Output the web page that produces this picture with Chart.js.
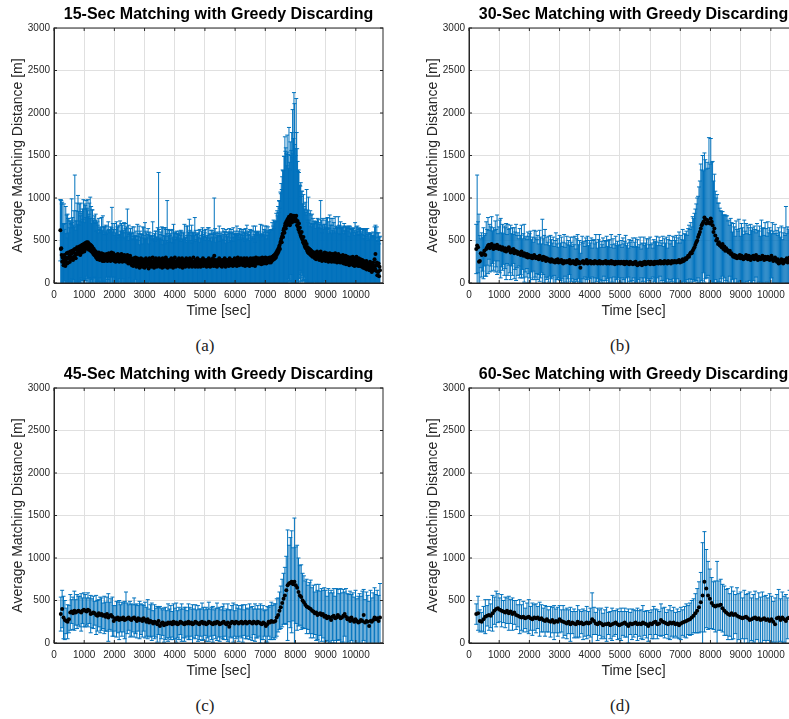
<!DOCTYPE html>
<html>
<head>
<meta charset="utf-8">
<script src="https://cdn.jsdelivr.net/npm/chart.js@4.4.0/dist/chart.umd.min.js"></script>
<style>
html, body { margin: 0; padding: 0; background: #fff; width: 789px; height: 719px; overflow: hidden; }
.panel { position: absolute; width: 400px; height: 330px; }
.cap { position: absolute; width: 60px; text-align: center; font-family: "Liberation Serif", "DejaVu Serif", serif; font-size: 17px; color: #222; line-height: 20px; }
</style>
</head>
<body>
<div class="panel" style="left:0px;top:0px"><canvas id="c15" width="400" height="330"></canvas></div>
<div class="panel" style="left:415px;top:0px"><canvas id="c30" width="400" height="330"></canvas></div>
<div class="panel" style="left:0px;top:360px"><canvas id="c45" width="400" height="330"></canvas></div>
<div class="panel" style="left:415px;top:360px"><canvas id="c60" width="400" height="330"></canvas></div>
<div class="cap" style="left:175px;top:336px">(a)</div>
<div class="cap" style="left:590px;top:336px">(b)</div>
<div class="cap" style="left:175px;top:696px">(c)</div>
<div class="cap" style="left:590px;top:696px">(d)</div>
<script>
// time grid: first sample and matching interval (sec)
var start15 = 210, step15 = 15;
var start30 = 240, step30 = 30;
var start45 = 225, step45 = 45;
var start60 = 240, step60 = 60;

var xTicks = [0, 1000, 2000, 3000, 4000, 5000, 6000, 7000, 8000, 9000, 10000];
var yTicks = [0, 500, 1000, 1500, 2000, 2500, 3000];

// 15-sec: average matching distance and its std
var mean15 = [
620,400,410,330,250,300,260,210,240,330,280,200,300,250,350,230,290,360,240,300,
320,250,370,280,340,290,380,300,270,360,390,310,400,330,290,390,350,420,340,380,
400,350,430,370,330,410,440,380,360,450,390,420,460,370,430,470,400,440,480,410,
450,480,420,390,460,410,450,380,440,370,430,360,410,340,400,330,380,320,370,300,
360,320,280,350,300,360,310,270,340,300,280,350,320,260,310,340,290,260,330,300,
320,270,340,290,260,330,300,350,270,290,340,260,310,360,290,270,330,350,290,260,
320,280,250,330,300,260,310,340,270,300,250,310,330,280,260,340,300,250,320,280,
290,330,260,280,320,250,300,270,330,280,230,300,270,250,320,230,290,260,210,280,
250,200,290,240,270,220,300,240,190,260,290,220,210,280,240,180,260,230,290,210,
250,190,280,230,210,270,180,250,230,290,200,250,210,270,230,170,250,290,210,240,
270,190,250,230,300,210,250,180,270,230,210,290,250,190,230,270,210,250,290,230,
190,250,270,210,240,180,290,250,210,270,230,190,250,300,210,230,270,180,250,230,
210,270,250,190,230,290,210,250,230,180,270,210,250,300,230,190,250,210,270,230,
250,200,290,230,190,250,270,210,230,290,180,250,230,200,270,250,190,230,290,210,
230,270,210,250,190,230,290,250,210,230,270,190,250,230,300,210,250,230,190,270,
230,200,250,290,190,230,270,210,250,230,190,270,250,210,230,290,200,250,230,270,
210,250,230,190,270,230,250,200,290,230,250,190,230,270,210,250,230,290,200,250,
320,230,270,200,250,230,190,270,250,230,210,290,250,230,270,200,250,190,230,270,
250,210,230,290,250,190,230,270,210,250,230,270,200,250,290,230,210,250,270,230,
250,200,270,230,250,290,210,250,230,270,200,250,300,230,250,210,270,250,220,290,
230,250,270,210,250,230,290,250,200,270,250,230,290,210,250,270,230,250,200,270,
290,230,250,270,210,250,290,230,270,250,200,270,300,230,250,270,230,290,250,270,
230,250,290,270,220,250,300,250,270,230,290,250,270,300,250,230,290,270,250,290,
270,240,300,260,280,240,300,260,310,270,290,320,280,330,290,340,300,360,330,380,
350,400,370,420,440,400,470,490,520,480,550,580,540,620,640,590,670,700,640,720,
680,740,690,760,700,780,720,680,760,800,710,770,730,790,720,750,790,760,730,780,
750,790,720,680,730,660,630,700,600,650,580,560,540,600,520,510,480,540,460,470,
430,490,410,420,460,380,420,360,410,350,400,340,390,330,380,320,370,310,360,330,
320,360,290,350,310,280,340,370,300,290,350,320,270,340,300,370,290,330,260,310,
340,290,270,330,360,290,260,310,350,280,330,290,250,320,280,350,260,300,340,250,
300,280,340,260,320,250,300,350,260,280,320,240,310,270,340,250,290,310,240,320,
270,310,240,290,330,250,230,310,270,240,320,220,290,260,310,230,280,250,210,300,
260,230,300,220,280,250,310,210,270,240,200,290,250,220,310,210,270,240,200,290,
230,260,200,280,210,250,190,270,220,180,260,200,240,170,230,190,260,160,220,190,
230,170,210,150,250,190,160,230,130,210,180,240,150,200,280,170,340,210,140,240,
90,210,130,230,80,190,150
];
var err15 = [
360,580,560,600,700,400,320,480,690,300,420,380,600,330,450,300,520,400,350,460,
330,480,360,420,350,700,330,470,380,320,460,350,870,400,330,460,380,520,350,650,
440,330,500,360,460,530,380,340,480,420,360,560,410,340,500,440,370,530,400,460,
400,500,360,420,480,350,560,380,460,330,430,500,350,400,330,460,320,390,440,310,
380,300,440,330,290,400,320,380,280,360,310,420,300,350,480,320,280,400,330,290,
360,300,270,380,330,290,420,280,350,310,260,400,320,290,600,330,370,280,340,300,
380,280,340,300,420,270,350,320,290,380,310,260,400,330,280,360,310,430,270,340,
300,380,270,420,320,290,360,280,540,310,270,380,300,350,260,410,290,330,300,380,
270,350,300,420,280,330,260,370,320,290,400,280,340,300,430,270,350,310,290,360,
320,270,380,300,440,290,340,460,280,320,390,270,330,300,410,290,350,270,380,310,
290,360,270,330,420,300,280,370,310,260,400,320,290,350,280,380,310,1050,340,290,
380,280,330,300,420,270,360,310,290,380,320,270,400,330,290,350,700,300,380,320,
270,350,310,390,290,330,270,380,310,290,420,300,340,280,370,320,290,400,310,350,
280,370,320,290,400,310,350,280,380,300,330,270,360,310,420,290,340,300,380,270,
330,400,290,350,310,520,300,370,290,330,410,280,350,320,290,380,310,540,300,350,
280,370,320,290,400,310,350,270,380,300,330,290,360,310,420,280,350,300,390,320,
290,380,310,350,270,330,400,300,360,290,330,380,300,350,280,370,310,290,400,320,
680,300,370,280,340,310,390,290,350,320,280,380,310,350,290,400,300,340,280,370,
320,290,380,310,350,280,400,300,340,290,370,320,280,390,310,350,290,380,320,300,
350,290,380,310,330,280,400,320,350,290,470,310,280,380,330,300,370,290,350,320,
290,380,320,350,280,400,310,340,290,370,330,280,390,310,350,290,380,320,300,360,
310,390,280,350,320,300,380,290,340,320,280,400,300,370,330,290,380,310,350,300,
330,290,400,310,350,300,380,320,290,370,340,300,400,320,350,290,380,330,310,370,
330,380,300,360,340,390,320,370,400,350,380,420,360,400,430,380,420,460,400,470,
440,500,460,550,520,480,600,560,650,620,700,750,780,700,850,900,1050,850,950,800,
700,1000,850,750,650,1050,700,650,900,700,850,1000,750,1250,800,950,1450,1350,900,800,
750,1380,1050,900,700,650,700,600,550,500,560,620,480,480,560,420,450,500,440,400,
430,460,420,380,640,360,440,350,600,390,420,330,460,370,420,340,440,380,400,360,
400,340,440,370,330,430,380,350,460,360,400,330,420,370,340,600,350,410,330,370,
420,340,390,360,330,450,380,340,410,350,440,360,330,400,360,450,340,380,420,330,
380,340,420,330,390,360,340,430,330,380,350,410,340,380,440,330,390,360,330,400,
370,340,410,360,330,420,350,390,340,380,350,440,360,400,340,380,360,420,340,370,
400,360,330,420,350,390,340,430,330,380,360,420,340,380,350,360,400,370,360,340,
420,380,370,360,400,340,380,360,420,340,380,360,380,350,400,360,380,340,420,380,
360,400,380,370,330,390,380,360,420,350,380,360,400,340,380,360,340,380,360,420,
400,380,410,360,380,350,400
];

// 30-sec
var mean30 = [
400,440,420,250,260,350,330,340,350,380,330,400,420,440,450,410,430,460,420,400,
440,430,410,450,420,400,430,410,390,420,400,380,410,370,400,390,420,380,360,390,
370,400,350,380,360,370,340,360,350,330,370,340,320,350,330,310,340,300,330,320,
300,320,290,310,330,300,290,310,300,280,320,300,290,270,310,280,300,260,290,270,
280,260,250,280,270,250,260,240,270,250,280,240,260,250,270,240,230,260,250,240,
260,250,240,270,230,250,240,260,230,250,220,270,240,250,230,180,240,250,260,230,
250,240,270,230,250,240,260,230,240,250,230,260,240,250,230,240,260,230,250,240,
230,250,240,260,230,240,250,230,240,260,230,250,240,220,250,240,230,250,240,230,
250,240,230,250,220,240,250,230,240,220,250,240,230,220,240,230,250,220,210,230,
220,240,230,210,240,230,250,220,240,230,250,240,220,250,230,240,220,250,230,240,
250,230,240,260,230,250,240,230,260,240,250,230,260,240,250,230,260,250,240,260,
250,240,260,250,270,240,260,250,280,260,270,290,280,300,320,310,340,360,350,380,
400,420,450,480,500,540,570,600,640,680,700,720,770,750,700,740,720,710,700,760,
720,680,600,640,560,500,520,460,480,440,450,420,460,400,430,380,410,390,370,360,
380,340,350,320,310,330,300,320,290,310,300,330,290,320,300,280,310,290,330,300,
280,320,300,270,310,290,320,280,300,330,290,270,310,290,280,300,320,290,270,310,
300,280,310,290,270,300,320,280,260,290,300,270,250,280,230,260,240,280,250,230,
270,250,260,290,240,280,300,250,270,290,260,280,300,270,290,280
];
var err30 = [
290,830,300,560,300,170,260,200,300,180,250,320,210,330,170,280,230,320,190,250,
180,300,220,350,160,260,310,350,200,270,180,290,240,330,170,300,210,260,320,190,
280,170,300,220,330,190,250,160,290,230,310,180,260,340,200,240,170,300,220,260,
310,190,250,170,290,230,320,200,260,180,300,240,170,480,210,280,330,190,250,210,
270,180,310,230,200,290,170,260,320,210,240,180,300,220,270,190,250,310,170,230,
290,200,260,170,310,230,190,280,220,300,180,250,330,200,270,170,240,300,210,260,
180,290,230,320,190,260,210,300,170,250,280,200,330,230,180,270,310,190,240,210,
300,170,260,230,320,190,250,280,180,310,220,270,170,240,300,200,260,190,330,220,
250,180,300,210,270,320,190,240,170,290,230,260,200,310,180,250,280,210,300,190,
230,300,170,260,220,310,190,250,280,180,270,210,320,200,240,170,290,230,260,310,
190,250,300,180,270,220,310,200,260,230,290,180,250,320,210,270,240,300,190,280,
250,320,210,280,330,230,300,260,350,240,310,280,330,260,320,370,290,350,310,400,
360,400,420,450,500,480,560,600,760,650,800,600,760,700,640,680,630,1000,700,940,
700,750,600,640,520,500,520,480,460,440,400,420,380,400,370,420,380,400,360,380,
300,420,360,280,390,330,250,410,340,300,450,310,260,380,350,290,430,320,370,280,
400,330,270,420,310,360,290,390,330,260,410,350,300,380,270,440,320,360,290,400,
340,270,410,300,380,320,260,430,350,290,390,310,370,280,420,340,300,390,260,360,
380,310,640,290,420,350,300,400,330,370,280,410,340,300,390,360
];

// 45-sec
var mean45 = [
340,400,300,270,260,250,280,360,370,350,380,360,370,380,370,360,380,390,380,370,
390,380,340,350,360,350,330,320,350,330,340,320,330,310,340,300,320,330,310,260,
290,280,300,270,290,280,300,270,280,290,300,280,270,290,300,280,260,290,270,280,
260,290,270,250,280,240,260,250,230,250,240,220,260,200,230,240,210,230,220,240,
230,240,220,250,230,240,220,230,250,240,230,220,240,230,250,230,240,220,230,250,
240,230,220,240,250,230,240,220,230,250,240,230,220,240,230,250,240,220,230,240,
250,230,220,240,190,230,250,240,230,250,240,230,240,250,230,240,250,230,240,250,
240,230,250,240,230,250,240,230,220,240,230,200,220,250,240,260,250,250,260,300,
330,380,420,470,520,560,620,680,700,710,720,690,720,680,650,600,560,540,500,480,
450,430,420,410,400,380,370,350,360,330,340,350,330,340,310,320,290,310,300,270,
310,320,290,300,330,310,290,300,320,340,310,280,290,260,300,270,250,280,260,240,
250,270,260,330,240,260,250,200,260,250,270,300,280,290,260,300
];
var err45 = [
200,220,250,230,150,200,160,210,140,190,230,150,200,170,180,220,150,200,190,160,
200,150,220,170,190,140,230,180,160,210,190,150,220,170,200,280,160,190,230,180,
150,210,180,230,160,200,170,220,320,180,150,210,190,160,230,170,200,150,220,180,
190,150,210,170,230,160,190,220,150,200,170,210,160,230,180,150,200,190,160,220,
170,200,150,210,180,230,160,190,150,220,170,200,180,150,210,190,160,230,170,200,
150,210,180,160,220,190,150,200,170,230,160,190,210,150,180,220,170,200,160,190,
210,150,180,220,200,160,190,230,150,200,170,210,160,190,220,150,200,180,160,210,
180,200,150,220,170,190,160,230,180,200,150,190,210,170,200,220,190,210,200,220,
200,220,250,280,300,330,400,650,450,530,600,430,750,450,500,400,350,380,320,310,
280,320,260,300,340,270,310,250,330,290,350,260,310,280,340,300,260,330,290,350,
280,320,260,340,300,270,350,290,310,260,330,300,280,350,270,320,290,340,260,310,
330,280,350,300,270,340,310,290,360,280,320,350,290,330,300,400
];

// 60-sec
var mean60 = [
340,350,260,250,280,310,320,330,320,350,380,400,410,390,380,370,360,380,350,370,
340,360,330,320,310,300,310,290,300,310,290,280,300,290,300,280,290,270,260,280,
260,250,270,240,260,250,280,260,250,240,230,250,220,240,230,220,250,230,240,220,
230,240,230,240,280,260,230,220,240,230,210,220,220,230,210,220,230,240,220,210,
220,230,240,220,200,230,220,230,240,220,230,220,240,230,220,200,230,220,240,250,
220,230,270,250,240,230,220,240,230,240,220,230,210,230,240,250,260,270,280,300,
320,350,380,420,480,560,720,640,560,520,470,440,430,440,440,450,410,380,360,340,
330,350,330,340,320,310,300,290,300,310,290,270,280,290,300,280,290,270,280,290,
270,280,260,280,250,220,290,300,270,300,280,260,290,300,280,270,290,300
];
var err60 = [
120,200,130,110,150,200,120,180,140,210,160,210,170,140,190,130,180,150,200,140,
190,140,170,130,200,150,180,120,170,200,140,190,150,170,130,200,160,140,180,150,
130,180,150,200,140,170,160,130,190,150,180,140,200,130,170,150,190,160,130,180,
150,190,140,170,310,160,130,190,150,180,140,170,200,130,160,190,150,140,180,160,
190,140,170,150,200,130,180,160,140,190,150,170,200,140,160,180,130,170,190,150,
170,140,190,160,180,130,170,200,150,180,140,170,160,190,150,180,200,170,190,200,
200,230,260,300,350,620,590,460,400,350,300,280,300,520,290,300,280,290,270,300,
250,310,280,230,330,270,300,240,320,260,290,330,250,280,310,240,300,270,320,260,
290,250,320,270,240,310,280,330,250,300,270,310,240,320,280,260,330,290
];

var FONT = "'Liberation Sans', Arial, Helvetica, sans-serif";
var AXIS = '#262626';

// draws mean +/- std bars with caps, using the chart's scales
var errorBars = {
    id: 'errorBars',
    beforeDatasetsDraw: function(chart) {
        var ctx = chart.ctx, a = chart.chartArea;
        var xs = chart.scales.x, ys = chart.scales.y;
        var ds = chart.data.datasets[0];
        ctx.save();
        ctx.beginPath();
        ctx.rect(a.left, a.top, a.right - a.left, a.bottom - a.top);
        ctx.clip();
        ctx.strokeStyle = '#0072BD';
        ctx.lineWidth = 1;
        ctx.beginPath();
        ds.data.forEach(function(p, i) {
            var e = ds.errors[i];
            var px = xs.getPixelForValue(p.x);
            var top = ys.getPixelForValue(p.y + e);
            var bot = ys.getPixelForValue(p.y - e);
            ctx.moveTo(px, top); ctx.lineTo(px, bot);
            ctx.moveTo(px - 2, top); ctx.lineTo(px + 2, top);
            ctx.moveTo(px - 2, bot); ctx.lineTo(px + 2, bot);
        });
        ctx.stroke();
        ctx.restore();
    }
};

// matlab style box with inward ticks
var boxAxes = {
    id: 'boxAxes',
    afterDraw: function(chart) {
        var ctx = chart.ctx, a = chart.chartArea;
        var xs = chart.scales.x, ys = chart.scales.y;
        ctx.save();
        ctx.strokeStyle = AXIS;
        ctx.lineWidth = 1;
        ctx.strokeRect(a.left, a.top, a.right - a.left, a.bottom - a.top);
        ctx.beginPath();
        xs.ticks.forEach(function(t) {
            var px = xs.getPixelForValue(t.value);
            ctx.moveTo(px, a.bottom); ctx.lineTo(px, a.bottom - 3);
            ctx.moveTo(px, a.top); ctx.lineTo(px, a.top + 3);
        });
        ys.ticks.forEach(function(t) {
            var py = ys.getPixelForValue(t.value);
            ctx.moveTo(a.left, py); ctx.lineTo(a.left + 3, py);
            ctx.moveTo(a.right, py); ctx.lineTo(a.right - 3, py);
        });
        ctx.stroke();
        ctx.restore();
    }
};

// title centred over the plot box, like matlab does
function panelTitle(text) {
    return {
        id: 'panelTitle',
        afterDraw: function(chart) {
            var ctx = chart.ctx, a = chart.chartArea;
            ctx.save();
            ctx.fillStyle = '#000';
            ctx.font = 'bold 16px ' + FONT;
            ctx.textAlign = 'center';
            ctx.textBaseline = 'middle';
            ctx.fillText(text, (a.left + a.right) / 2, 15);
            ctx.restore();
        }
    };
}

function tickList(vals) {
    return function(s) { s.ticks = vals.map(function(v) { return {value: v}; }); };
}

function drawPanel(id, title, t0, step, means, errs) {
    var pts = means.map(function(m, i) { return {x: t0 + i * step, y: m}; });
    new Chart(document.getElementById(id), {
        type: 'scatter',
        data: {
            datasets: [{
                data: pts,
                errors: errs,
                backgroundColor: '#000',
                borderWidth: 0,
                pointRadius: 2,
                pointHoverRadius: 2
            }]
        },
        options: {
            responsive: false,
            animation: false,
            devicePixelRatio: 1,
            layout: { padding: { left: 0, right: 17, top: 28, bottom: 7 } },
            plugins: {
                legend: { display: false },
                tooltip: { enabled: false },
                title: { display: false }
            },
            scales: {
                x: {
                    type: 'linear',
                    min: 0,
                    max: 10900,
                    afterFit: function(s) { s.height = 40; },
                    afterBuildTicks: tickList(xTicks),
                    grid: { color: '#e0e0e0', drawTicks: false },
                    border: { color: AXIS },
                    ticks: {
                        autoSkip: false,
                        maxRotation: 0,
                        minRotation: 0,
                        padding: 6,
                        color: AXIS,
                        font: { family: FONT, size: 10 },
                        callback: function(v) { return String(v); }
                    },
                    title: {
                        display: true,
                        text: 'Time [sec]',
                        color: AXIS,
                        font: { family: FONT, size: 14 },
                        padding: { top: 0, bottom: 3 }
                    }
                },
                y: {
                    min: yTicks[0],
                    max: yTicks[yTicks.length - 1],
                    afterFit: function(s) { s.width = 54; },
                    afterBuildTicks: tickList(yTicks),
                    grid: { color: '#e0e0e0', drawTicks: false },
                    border: { color: AXIS },
                    ticks: {
                        padding: 4,
                        color: AXIS,
                        font: { family: FONT, size: 10 },
                        callback: function(v) { return String(v); }
                    },
                    title: {
                        display: true,
                        text: 'Average Matching Distance [m]',
                        color: AXIS,
                        font: { family: FONT, size: 14 },
                        padding: { top: 10, bottom: 0 }
                    }
                }
            }
        },
        plugins: [errorBars, boxAxes, panelTitle(title)]
    });
}

drawPanel('c15', '15-Sec Matching with Greedy Discarding', start15, step15, mean15, err15);
drawPanel('c30', '30-Sec Matching with Greedy Discarding', start30, step30, mean30, err30);
drawPanel('c45', '45-Sec Matching with Greedy Discarding', start45, step45, mean45, err45);
drawPanel('c60', '60-Sec Matching with Greedy Discarding', start60, step60, mean60, err60);
</script>
</body>
</html>
